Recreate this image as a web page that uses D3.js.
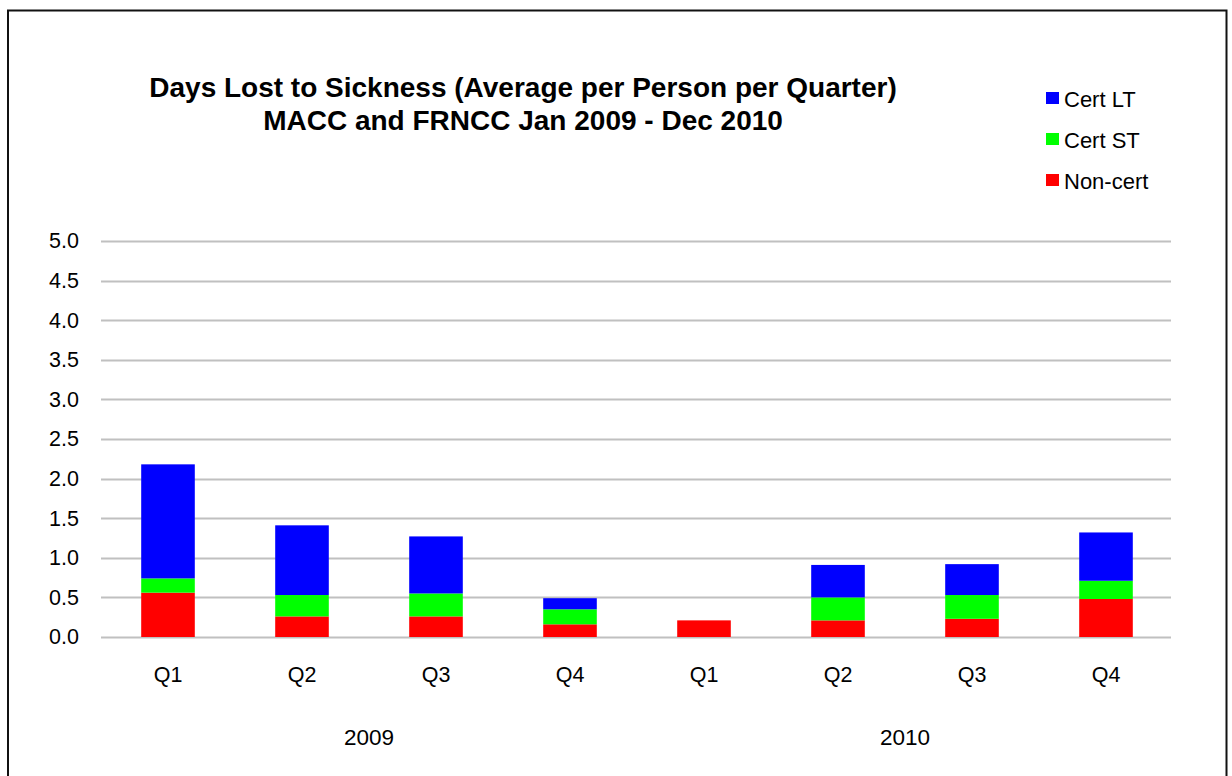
<!DOCTYPE html>
<html>
<head>
<meta charset="utf-8">
<script src="https://cdn.jsdelivr.net/npm/d3@7"></script>
<style>
  html, body { margin: 0; padding: 0; background: #fff; }
  svg { display: block; font-family: "Liberation Sans", Arial, sans-serif; }
</style>
</head>
<body>
<svg id="chart" width="1232" height="776"></svg>
<script>
// Quarter labels and the year each quarter belongs to
const quarters = ["Q1", "Q2", "Q3", "Q4", "Q1", "Q2", "Q3", "Q4"];
const years = ["2009", "2010"];
// Average days lost per person per quarter, by absence type
const nonCert = [0.56, 0.26, 0.26, 0.16, 0.21, 0.21, 0.23, 0.48];
const certST  = [0.18, 0.27, 0.29, 0.19, 0.00, 0.29, 0.30, 0.23];
const certLT  = [1.44, 0.88, 0.72, 0.14, 0.00, 0.41, 0.39, 0.61];
const yTicks = [0, 0.5, 1, 1.5, 2, 2.5, 3, 3.5, 4, 4.5, 5];

const seriesNames = ["Non-cert", "Cert ST", "Cert LT"];
const colors = { "Non-cert": "#ff0000", "Cert ST": "#00ff00", "Cert LT": "#0000ff" };

const rows = quarters.map((q, i) => ({
  idx: i, "Non-cert": nonCert[i], "Cert ST": certST[i], "Cert LT": certLT[i]
}));

const svg = d3.select("#chart");
const plot = { left: 101, right: 1173, top: 241, bottom: 637 };

// Outer frame
svg.append("rect")
  .attr("x", 8).attr("y", 10.5).attr("width", 1218.5).attr("height", 780)
  .attr("fill", "none").attr("stroke", "#111").attr("stroke-width", 2);

const x = d3.scaleBand().domain(d3.range(quarters.length))
  .range([plot.left, plot.right]).paddingInner(0.6).paddingOuter(0.3);
const y = d3.scaleLinear().domain([0, 5]).range([plot.bottom, plot.top]);

// Gridlines
svg.append("g").selectAll("line").data(yTicks).join("line")
  .attr("x1", plot.left).attr("x2", plot.right - 2)
  .attr("y1", d => Math.round(y(d)) + 0.5).attr("y2", d => Math.round(y(d)) + 0.5)
  .attr("stroke", "#c0c0c0").attr("stroke-width", 2);

// Y axis labels
const yAxis = d3.axisLeft(y).tickValues(yTicks).tickFormat(d3.format(".1f")).tickSize(0).tickPadding(22);
const gy = svg.append("g").attr("transform", `translate(${plot.left},0)`).call(yAxis);
gy.select(".domain").remove();
gy.selectAll("text").attr("font-size", 21.5).attr("fill", "#000")
  .attr("font-family", "'Liberation Sans', Arial, sans-serif");

// Stacked bars
const stack = d3.stack().keys(seriesNames)(rows);
svg.append("g").selectAll("g").data(stack).join("g")
  .attr("fill", d => colors[d.key])
  .selectAll("rect").data(d => d).join("rect")
  .attr("x", d => x(d.data.idx))
  .attr("width", x.bandwidth())
  .attr("y", d => y(d[1]))
  .attr("height", d => Math.max(0, y(d[0]) - y(d[1])));

// Quarter labels
const xAxis = d3.axisBottom(x).tickFormat(i => quarters[i]).tickSize(0).tickPadding(30);
const gx = svg.append("g").attr("transform", `translate(0,${plot.bottom})`).call(xAxis);
gx.select(".domain").remove();
gx.selectAll("text").attr("font-size", 21.5).attr("fill", "#000")
  .attr("font-family", "'Liberation Sans', Arial, sans-serif");

// Year labels centred under their four quarters
years.forEach((yr, k) => {
  const first = x(k * 4), last = x(k * 4 + 3) + x.bandwidth();
  svg.append("text")
    .attr("x", (first + last) / 2).attr("y", 745)
    .attr("text-anchor", "middle").attr("font-size", 22.5).attr("fill", "#000")
    .text(yr);
});

// Title
const title = svg.append("text").attr("text-anchor", "middle")
  .attr("font-size", 28).attr("font-weight", "bold").attr("fill", "#000");
title.append("tspan").attr("x", 523).attr("y", 97)
  .text("Days Lost to Sickness (Average  per Person per Quarter)");
title.append("tspan").attr("x", 523).attr("y", 130)
  .text("MACC and FRNCC Jan 2009 - Dec 2010");

// Legend
const legendItems = ["Cert LT", "Cert ST", "Non-cert"];
const lg = svg.append("g").selectAll("g").data(legendItems).join("g")
  .attr("transform", (d, i) => `translate(1046,${98 + i * 41})`);
lg.append("rect").attr("x", 0).attr("y", -6).attr("width", 13).attr("height", 12)
  .attr("fill", d => colors[d]);
lg.append("text").attr("x", 18).attr("y", 8.5).attr("font-size", 22).attr("fill", "#000")
  .text(d => d);
</script>
</body>
</html>
